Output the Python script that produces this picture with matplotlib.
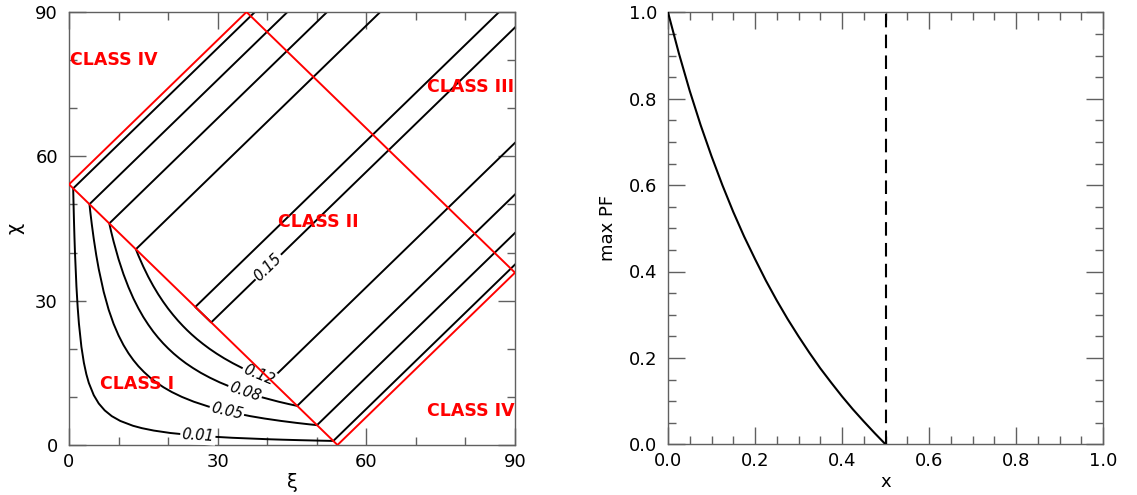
import matplotlib
matplotlib.use("Agg")
import matplotlib.pyplot as plt
from matplotlib.ticker import MultipleLocator

plt.rcParams["font.family"] = "DejaVu Sans"

# ---------------- data ----------------
# critical angle (deg) separating the light-curve classes
theta_c = 54.18

# contour levels of the pulsed fraction and their printed labels
level_labels = ["0.01", "0.05", "0.08", "0.12", "0.15"]

# |xi - chi| at which each contour runs in classes II/III (straight lines)
offsets = [52.49, 45.92, 37.92, 27.19, 3.21]

# class I part of each contour, branch with chi > xi (from the class boundary to the diagonal)
branch_xi = [
    [0.9, 1.0, 1.1, 1.2, 1.5, 1.75, 2.0, 2.5, 3.0, 3.5, 4.0, 5.0, 6.0, 7.2],
    [4.3, 4.6, 5.0, 5.5, 6.0, 7.0, 8.0, 9.0, 10.0, 11.0, 12.0, 13.0, 14.0, 15.15],
    [8.5, 9.0, 10.0, 11.0, 12.0, 13.0, 14.0, 15.0, 16.0, 17.0, 18.0, 19.0, 20.04],
    [14.0, 15.0, 16.0, 17.0, 18.0, 19.0, 20.0, 21.0, 22.0, 23.0, 23.85],
    [],
]
branch_chi = [
    [50.80, 46.73, 43.20, 40.13, 32.96, 28.62, 25.26, 20.42, 17.11, 14.71, 12.90, 10.35, 8.63, 7.2],
    [48.44, 45.88, 42.81, 39.46, 36.57, 31.84, 28.13, 25.18, 22.77, 20.76, 19.07, 17.63, 16.38, 15.15],
    [44.38, 42.30, 38.62, 35.49, 32.80, 30.45, 28.41, 26.60, 25.01, 23.57, 22.29, 21.13, 20.04],
    [39.39, 37.06, 34.95, 33.06, 31.34, 29.78, 28.35, 27.05, 25.84, 24.73, 23.85],
    [],
]

class_names = ["CLASS I", "CLASS II", "CLASS III", "CLASS IV", "CLASS IV"]

# maximum pulsed fraction versus compactness
comp_x = [0.0, 0.025, 0.05, 0.075, 0.1, 0.125, 0.15, 0.175, 0.2, 0.225, 0.25,
          0.275, 0.3, 0.325, 0.35, 0.375, 0.4, 0.425, 0.45, 0.475, 0.5]
max_pf = [1.0, 0.905, 0.818, 0.739, 0.667, 0.600, 0.538, 0.481, 0.429, 0.379, 0.333,
          0.290, 0.250, 0.212, 0.176, 0.143, 0.111, 0.081, 0.053, 0.026, 0.0]
comp_crit = 0.5

# ---------------- figure ----------------
W, H = 1137, 495
fig = plt.figure(figsize=(W / 100, H / 100), dpi=100)
axL = fig.add_axes([69 / W, 50 / H, 446 / W, 433 / H])
axR = fig.add_axes([668 / W, 50.7 / H, 435 / W, 432 / H])

SPINE = "#606060"


def style(ax, major, minor):
    ax.xaxis.set_major_locator(MultipleLocator(major))
    ax.xaxis.set_minor_locator(MultipleLocator(minor))
    ax.yaxis.set_major_locator(MultipleLocator(major))
    ax.yaxis.set_minor_locator(MultipleLocator(minor))
    ax.tick_params(which="both", direction="in", top=True, right=True,
                   color=SPINE, width=1.0, labelsize=13, labelcolor="black")
    ax.tick_params(which="major", length=12.2)
    ax.tick_params(which="minor", length=5.8)
    ax.tick_params(axis="x", pad=5.5)
    ax.tick_params(axis="y", pad=8)
    for s in ax.spines.values():
        s.set_color(SPINE)
        s.set_linewidth(1.0)


# ---- left panel: pulsed-fraction contours in the (xi, chi) plane ----
axL.set_xlim(0, 90)
axL.set_ylim(0, 90)
style(axL, 30, 10)

for lab, d, bx, bc in zip(level_labels, offsets, branch_xi, branch_chi):
    up_corner = ((theta_c - d) / 2, (theta_c + d) / 2)
    lo_corner = ((theta_c + d) / 2, (theta_c - d) / 2)
    # the map is symmetric in xi and chi: the second branch is the mirror image
    xs = [90 - d, up_corner[0]] + bx + bc[::-1][1:] + [lo_corner[0], 90]
    ys = [90, up_corner[1]] + bc + bx[::-1][1:] + [lo_corner[1], 90 - d]
    if not bx:
        xs = [90 - d, up_corner[0], lo_corner[0], 90]
        ys = [90, up_corner[1], lo_corner[1], 90 - d]
    axL.plot(xs, ys, color="black", lw=1.4, zorder=2, solid_joinstyle="round")

# inline contour labels
label_spots = [(26.0, 1.95, -3.6), (31.84, 7.0, -13.0), (35.49, 11.0, -18.5),
               (38.3, 14.47, -22.6), (40.2, 36.99, 44.15)]
for lab, (lx, ly, rot) in zip(level_labels, label_spots):
    axL.text(lx, ly, lab, rotation=rot, rotation_mode="anchor", ha="center",
             va="center", fontsize=10.5, style="italic", color="black", zorder=3,
             bbox=dict(boxstyle="square,pad=0.1", fc="white", ec="none"))

# class boundaries
tc = theta_c
red_kw = dict(color="red", lw=1.4, zorder=4, solid_capstyle="butt")
axL.plot([0, 90 - tc], [tc, 90], **red_kw)
axL.plot([0, tc], [tc, 0], **red_kw)
axL.plot([tc, 90], [0, 90 - tc], **red_kw)
axL.plot([90 - tc, 90], [90, 90 - tc], **red_kw)

class_spots = [(6.25, 12.6), (42.2, 46.3), (72.2, 74.4), (0.3, 80.1), (72.2, 7.1)]
for name, (cx, cy) in zip(class_names, class_spots):
    axL.text(cx, cy, name, color="red", fontweight="bold", fontsize=12.5,
             ha="left", va="center", zorder=5)

axL.set_xlabel("ξ", fontsize=14, labelpad=2)
axL.set_ylabel("χ", fontsize=14, labelpad=8)

# ---- right panel: maximum pulsed fraction ----
axR.set_xlim(0, 1)
axR.set_ylim(0, 1)
style(axR, 0.2, 0.05)
axR.plot(comp_x, max_pf, color="black", lw=1.5, zorder=3)
axR.axvline(comp_crit, color="black", lw=1.5, linestyle=(0, (6.5, 3.5)), zorder=3)
axR.set_xlabel("x", fontsize=13, labelpad=2)
axR.set_ylabel("max PF", fontsize=13, labelpad=8)

fig.savefig("out.png", dpi=100)
